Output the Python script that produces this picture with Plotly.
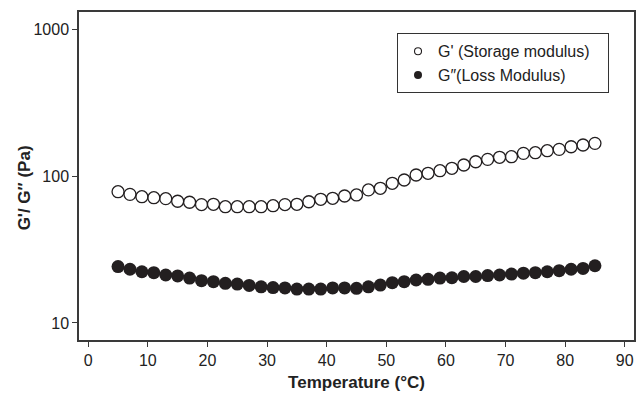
import plotly.graph_objects as go

temperature = [5, 7, 9, 11, 13, 15, 17, 19, 21, 23, 25, 27, 29, 31, 33, 35, 37, 39, 41,
               43, 45, 47, 49, 51, 53, 55, 57, 59, 61, 63, 65, 67, 69, 71, 73, 75, 77,
               79, 81, 83, 85]

g_storage = [78.2, 75.0, 72.3, 71.2, 70.1, 67.3, 66.3, 63.9, 64.2, 61.8, 61.8, 61.8,
             61.8, 62.8, 63.9, 64.2, 66.8, 69.4, 70.5, 73.1, 74.3, 80.4, 82.5, 89.2,
             93.9, 101.6, 104.3, 108.7, 112.8, 118.8, 125.0, 129.8, 134.0, 135.3,
             142.6, 144.1, 148.6, 151.8, 158.2, 162.5, 166.8]

g_loss = [24.2, 23.2, 22.3, 22.0, 21.2, 20.9, 20.2, 19.4, 19.1, 18.6, 18.4, 18.0,
          17.6, 17.4, 17.3, 17.0, 17.0, 17.0, 17.3, 17.3, 17.2, 17.6, 18.1, 18.8,
          19.1, 19.6, 19.8, 20.2, 20.3, 20.7, 20.7, 21.0, 21.2, 21.5, 21.8, 22.0,
          22.3, 22.7, 23.2, 23.5, 24.5]

x_ticks = [0, 10, 20, 30, 40, 50, 60, 70, 80, 90]
y_ticks = [10, 100, 1000]
y_tick_labels = ["10", "100", "1000"]

series_names = ["G' (Storage modulus)", "G\u2033(Loss Modulus)"]
x_title = "Temperature (°C)"
y_title = "G'/ G\u2033 (Pa)"

dark = "#231f20"
axis_col = "#3a3a3a"
font_family = "Liberation Sans, Arial, sans-serif"
legend_pad = "\u00a0" * 3  # extra right padding inside the legend box

fig = go.Figure()
# data traces (legend handled by small-marker legend entries below)
fig.add_trace(go.Scatter(
    x=temperature, y=g_storage, mode="markers", name=series_names[0], showlegend=False,
    marker=dict(symbol="circle-open", size=12, color=dark, line=dict(width=1.3, color=dark)),
))
fig.add_trace(go.Scatter(
    x=temperature, y=g_loss, mode="markers", name=series_names[1], showlegend=False,
    marker=dict(symbol="circle", size=13, color=dark, line=dict(width=0)),
))
# legend entries with small markers, as in the reference
fig.add_trace(go.Scatter(
    x=[None], y=[None], mode="markers", name=series_names[0] + legend_pad,
    marker=dict(symbol="circle-open", size=7, color=dark, line=dict(width=1.1, color=dark)),
))
fig.add_trace(go.Scatter(
    x=[None], y=[None], mode="markers", name=series_names[1],
    marker=dict(symbol="circle", size=8, color=dark, line=dict(width=0)),
))

fig.update_layout(
    width=641, height=394,
    margin=dict(l=79, r=5, t=12, b=54),
    paper_bgcolor="white", plot_bgcolor="white",
    font=dict(family=font_family, size=16, color="#222"),
    showlegend=True,
    legend=dict(
        x=0.573, y=0.935, xanchor="left", yanchor="top",
        bordercolor="#333", borderwidth=1, bgcolor="white",
        font=dict(size=16, color="#222"),
        itemsizing="trace",
        tracegroupgap=0,
    ),
    xaxis=dict(
        range=[-1.55, 91.55], tickvals=x_ticks, ticks="outside", ticklen=5,
        tickwidth=1.2, tickcolor=axis_col, showline=True, linecolor=axis_col,
        linewidth=1.5, mirror=True, showgrid=False, zeroline=False,
        title=dict(text="<b>" + x_title + "</b>", font=dict(size=17, color="#222"), standoff=8),
        tickfont=dict(size=16, color="#222"),
    ),
    yaxis=dict(
        type="log", range=[0.884, 3.116], tickvals=y_ticks, ticktext=y_tick_labels,
        ticks="outside", ticklen=5, tickwidth=1.2, tickcolor=axis_col,
        showline=True, linecolor=axis_col, linewidth=1.5, mirror=True,
        showgrid=False, zeroline=False,
        tickfont=dict(size=16, color="#222"),
    ),
    annotations=[dict(
        text="<b>" + y_title + "</b>", textangle=-90,
        xref="paper", yref="paper", x=-0.0987, y=0.463,
        xanchor="center", yanchor="middle", showarrow=False,
        font=dict(size=17, color="#222"),
    )],
)

fig.write_html("out.html")
